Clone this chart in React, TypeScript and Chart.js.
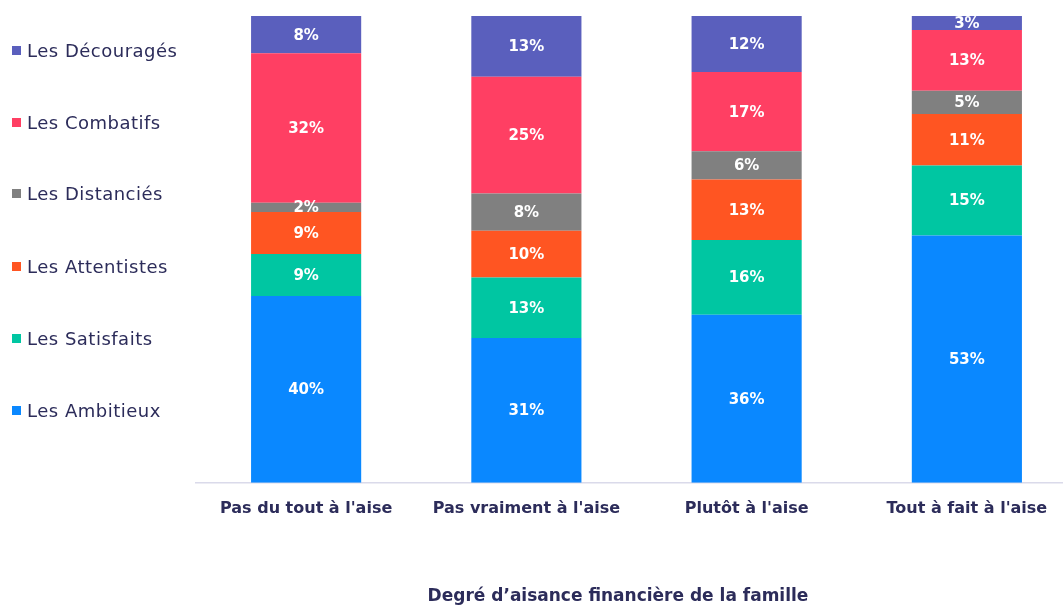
import React, { useEffect, useRef } from "react";
import { Chart, registerables } from "chart.js";

Chart.register(...registerables);

// Categories along the x axis
const categories = [
  "Pas du tout à l'aise",
  "Pas vraiment à l'aise",
  "Plutôt à l'aise",
  "Tout à fait à l'aise",
];

// Series, stacked bottom to top (percent)
const ambitieux = [40, 31, 36, 53];
const satisfaits = [9, 13, 16, 15];
const attentistes = [9, 10, 13, 11];
const distancies = [2, 8, 6, 5];
const combatifs = [32, 25, 17, 13];
const decourages = [8, 13, 12, 3];

const seriesNames = [
  "Les Ambitieux",
  "Les Satisfaits",
  "Les Attentistes",
  "Les Distanciés",
  "Les Combatifs",
  "Les Découragés",
];
const seriesColors = ["#0A88FF", "#00C6A2", "#FF5522", "#808080", "#FF3F63", "#5A5FBD"];
const seriesValues = [ambitieux, satisfaits, attentistes, distancies, combatifs, decourages];

const axisTitle = "Degré d’aisance financière de la famille";

const TEXT = "#2C2C5A";
const CANVAS_W = 1080;
const CANVAS_H = 606;

// Writes each segment's percentage in its middle
const segmentLabels = {
  id: "segmentLabels",
  afterDatasetsDraw(chart: any) {
    const ctx = chart.ctx;
    ctx.save();
    ctx.fillStyle = "#FFFFFF";
    ctx.font = "bold 15px 'DejaVu Sans'";
    ctx.textAlign = "center";
    ctx.textBaseline = "middle";
    chart.data.datasets.forEach((ds: any, i: number) => {
      const meta = chart.getDatasetMeta(i);
      meta.data.forEach((el: any, j: number) => {
        const v = ds.data[j];
        const y = (el.y + el.base) / 2;
        ctx.fillText(v + "%", el.x, y + 1);
      });
    });
    ctx.restore();
  },
};

export default function App() {
  const canvasRef = useRef<HTMLCanvasElement | null>(null);

  useEffect(() => {
    if (!canvasRef.current) return;
    const chart = new Chart(canvasRef.current, {
      type: "bar",
      data: {
        labels: categories,
        datasets: seriesNames.map((name, i) => ({
          label: name,
          data: seriesValues[i],
          backgroundColor: seriesColors[i],
          borderWidth: 0,
          barPercentage: 0.5,
          categoryPercentage: 1,
        })),
      },
      options: {
        responsive: false,
        animation: false,
        layout: { padding: { left: 196, right: 3, top: 16, bottom: 72 } },
        plugins: {
          legend: { display: false },
          tooltip: { enabled: false },
        },
        scales: {
          x: {
            stacked: true,
            grid: { display: false, drawTicks: false },
            border: { display: true, color: "#DADAEA", width: 1.5 },
            ticks: {
              color: TEXT,
              padding: 16,
              font: { family: "'DejaVu Sans'", size: 16, weight: "bold" },
            },
          },
          y: {
            stacked: true,
            display: false,
            min: 0,
            max: 100,
          },
        },
      },
      plugins: [segmentLabels],
    });
    return () => chart.destroy();
  }, []);

  const legendTops = [51, 123, 194, 267, 339, 411];

  return (
    <div
      style={{
        position: "absolute",
        left: 0,
        top: 0,
        width: 1063,
        height: 606,
        overflow: "hidden",
        background: "#FFFFFF",
      }}
    >
      <canvas
        ref={canvasRef}
        width={CANVAS_W}
        height={CANVAS_H}
        style={{ position: "absolute", left: 0, top: 0, width: CANVAS_W, height: CANVAS_H }}
      />
      {seriesNames
        .slice()
        .reverse()
        .map((name, k) => {
          const color = seriesColors[seriesNames.length - 1 - k];
          return (
            <div
              key={name}
              style={{
                position: "absolute",
                left: 12,
                top: legendTops[k] - 12,
                height: 22,
                display: "flex",
                alignItems: "center",
                fontFamily: "'DejaVu Sans'",
                fontSize: 18,
                letterSpacing: 0.5,
                color: TEXT,
                whiteSpace: "nowrap",
              }}
            >
              <span
                style={{
                  display: "inline-block",
                  width: 9,
                  height: 9,
                  background: color,
                  marginRight: 6,
                }}
              />
              {name}
            </div>
          );
        })}
      <div
        style={{
          position: "absolute",
          left: 418,
          width: 400,
          top: 584,
          height: 22,
          lineHeight: "22px",
          textAlign: "center",
          fontFamily: "'DejaVu Sans'",
          fontWeight: "bold",
          fontSize: 17,
          color: TEXT,
          whiteSpace: "nowrap",
        }}
      >
        {axisTitle}
      </div>
    </div>
  );
}
